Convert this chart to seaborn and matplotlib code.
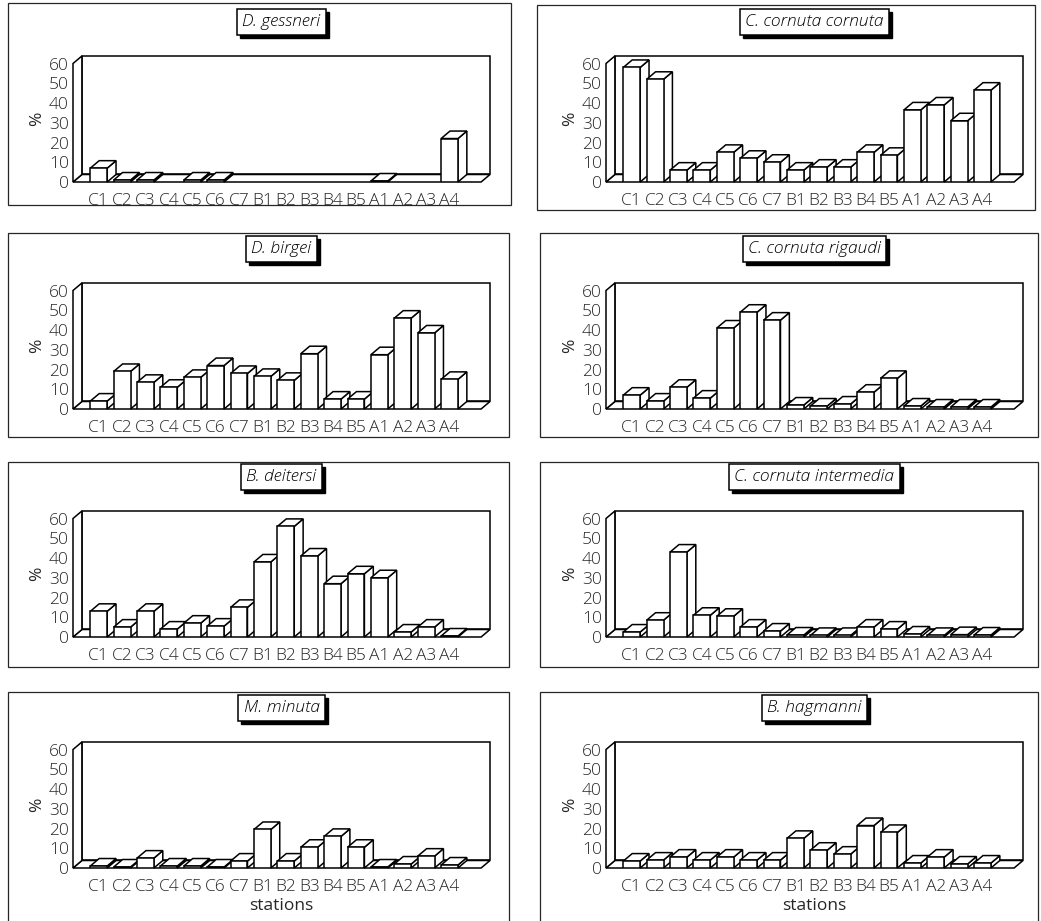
import matplotlib
matplotlib.use("Agg")
import matplotlib.pyplot as plt
import matplotlib.patches as patches
from matplotlib.transforms import offset_copy
import seaborn as sns
import pandas as pd

# ==========================================
# DATA (% per station)
# ==========================================
stations = ["C1", "C2", "C3", "C4", "C5", "C6", "C7",
            "B1", "B2", "B3", "B4", "B5", "A1", "A2", "A3", "A4"]

titles = ["D. gessneri", "C. cornuta cornuta",
          "D. birgei", "C. cornuta rigaudi",
          "B. deitersi", "C. cornuta intermedia",
          "M. minuta", "B. hagmanni"]

gessneri = [7, 1, 1, 0, 1, 1, 0, 0, 0, 0, 0, 0, 0.5, 0, 0, 22]
cornuta_cornuta = [58, 52, 6, 6, 15, 12, 10, 6, 7.5, 7.5, 15, 13.5, 36.5, 39, 31, 46.5]
birgei = [4, 19, 13.5, 11, 16, 22, 18, 16.5, 14.5, 28, 5, 5, 27.5, 46, 38.5, 15]
cornuta_rigaudi = [7, 4, 11, 5.5, 41, 49, 45, 2, 1.5, 2.5, 8.5, 15.5, 1.5, 1, 1, 1]
deitersi = [13, 5, 13, 4, 7, 5.5, 15, 38, 56, 41, 27, 32, 30, 2.5, 5, 0.5]
cornuta_intermedia = [2.5, 8.5, 43, 11, 10.5, 5, 3, 1, 0.8, 0.8, 5, 4, 1.5, 0.8, 1.2, 1]
minuta = [1, 0.5, 5, 1, 1, 0.5, 3.5, 19.5, 3.5, 10.5, 16, 10.5, 0.5, 2, 6, 1.5]
hagmanni = [3.5, 4, 5.5, 4, 5.5, 4, 4, 15, 9, 7, 21.5, 18, 2.5, 5.5, 2, 2.5]

series = [gessneri, cornuta_cornuta, birgei, cornuta_rigaudi,
          deitersi, cornuta_intermedia, minuta, hagmanni]

# ==========================================
# LAYOUT (pixels of the 1041x921 figure)
# ==========================================
W, H = 1041, 921
COL_X = [73, 606]                # front y axis of each column
ROW_BASE = [182, 409, 637, 868]  # zero line of each row
AX_W, AX_H = 417, 126
FRAMES = [(8, 3, 511, 205), (537, 5, 1035, 210),
          (8, 233, 509, 437), (540, 233, 1038, 437),
          (8, 462, 509, 667), (540, 462, 1038, 667),
          (8, 692, 509, 940), (540, 692, 1038, 940)]

DX, DY = 0.38, 3.8      # pseudo 3D depth (data units)
X_LEFT, X_FLOOR = -1.1, 16.35
Y_TOP = 60
LW = 1.1
FS = 12.5

sns.set_theme(style="white")
plt.rcParams['font.family'] = ['Open Sans', 'DejaVu Sans']
plt.rcParams['font.weight'] = 'light'

fig = plt.figure(figsize=(W / 100, H / 100), dpi=100)

# panel frames
for (x0, y0, x1, y1) in FRAMES:
    fig.add_artist(patches.Rectangle((x0 / W, 1 - y1 / H), (x1 - x0) / W, (y1 - y0) / H,
                                     transform=fig.transFigure, fill=False,
                                     ec="0.15", lw=0.9))

title_texts = []
for i, (title, vals) in enumerate(zip(titles, series)):
    row, col = divmod(i, 2)
    ax = fig.add_axes([COL_X[col] / W, 1 - ROW_BASE[row] / H, AX_W / W, AX_H / H])

    df = pd.DataFrame({"station": stations, "pct": vals})
    sns.barplot(data=df, x="station", y="pct", order=stations, color="white",
                saturation=1, edgecolor="black", linewidth=LW, width=0.72, ax=ax)
    bars = list(ax.patches)

    # floor, left wall, back wall
    floor = patches.Polygon([(X_LEFT, 0), (X_FLOOR, 0), (X_FLOOR + DX, DY), (X_LEFT + DX, DY)],
                            closed=True, fc="white", ec="black", lw=LW, zorder=1, clip_on=False)
    lwall = patches.Polygon([(X_LEFT, 0), (X_LEFT + DX, DY), (X_LEFT + DX, Y_TOP + DY), (X_LEFT, Y_TOP)],
                            closed=True, fc="white", ec="black", lw=LW, zorder=1, clip_on=False)
    bwall = patches.Rectangle((X_LEFT + DX, DY), X_FLOOR - X_LEFT, Y_TOP,
                              fc="white", ec="black", lw=LW, zorder=0.5, clip_on=False)
    for p in (bwall, floor, lwall):
        ax.add_patch(p)

    # 3D tops and sides for each bar, drawn left to right
    for k, p in enumerate(bars):
        x0, w, h = p.get_x(), p.get_width(), p.get_height()
        z = 3 + k
        if h <= 0:
            p.set_visible(False)
            continue
        p.set_zorder(z + 0.5)
        top = patches.Polygon([(x0, h), (x0 + w, h), (x0 + w + DX, h + DY), (x0 + DX, h + DY)],
                              closed=True, fc="white", ec="black", lw=LW, zorder=z, clip_on=False)
        side = patches.Polygon([(x0 + w, 0), (x0 + w + DX, DY), (x0 + w + DX, h + DY), (x0 + w, h)],
                               closed=True, fc="white", ec="black", lw=LW, zorder=z, clip_on=False)
        ax.add_patch(side)
        ax.add_patch(top)

    ax.set_xlim(X_LEFT, X_FLOOR + DX)
    ax.set_ylim(0, Y_TOP + DY)
    for s in ax.spines.values():
        s.set_visible(False)
    ax.set_facecolor("none")
    ax.set_yticks(range(0, 61, 10))
    ax.tick_params(axis="y", direction="in", length=4, width=0.9, pad=3, labelsize=FS)
    ax.tick_params(axis="x", length=0, pad=8, labelsize=FS)
    ax.set_ylabel("%", fontsize=FS, labelpad=3)
    ax.set_xlabel("stations" if row == 3 else "", fontsize=FS, labelpad=2)

    # boxed italic title
    tr = offset_copy(ax.transAxes, fig=fig, x=0, y=34, units="dots")
    t = ax.text(0.5, 1, title, transform=tr, ha="center", va="center", style="italic",
                fontsize=12.5, color="black",
                bbox=dict(boxstyle="square,pad=0.3", fc="white", ec="black", lw=LW), zorder=21)
    title_texts.append(t)

# drop shadow behind each title box
fig.canvas.draw()
for t in title_texts:
    bb = t.get_bbox_patch().get_window_extent()
    fig.add_artist(patches.Rectangle((bb.x0 + 3, bb.y0 - 3), bb.width, bb.height,
                                     transform=None, fc="black", ec="black", zorder=-1))

fig.savefig("out.png", dpi=100)
